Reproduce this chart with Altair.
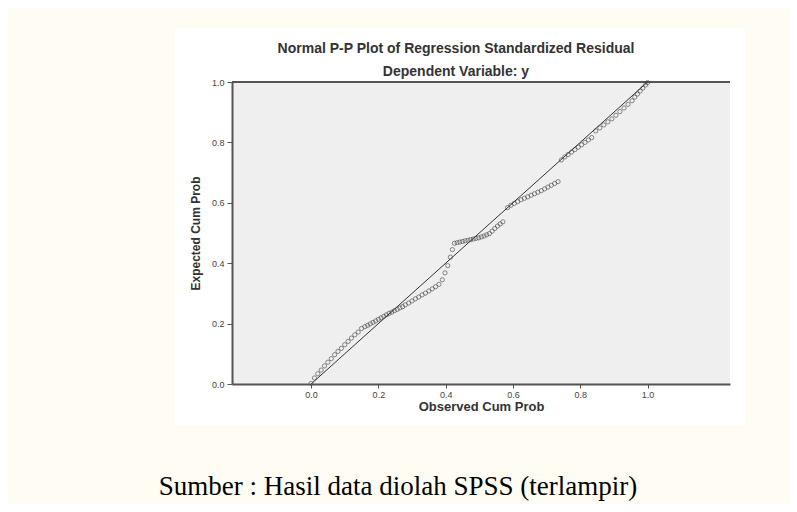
import altair as alt
import pandas as pd

# Observed cumulative probability (x) and expected cumulative probability (y)
observed = [
    0.000, 0.010, 0.020, 0.030, 0.040, 0.050, 0.060, 0.070, 0.080, 0.090,
    0.100, 0.110, 0.120, 0.130, 0.140, 0.150,
    0.160, 0.168, 0.176, 0.184, 0.192, 0.200, 0.208, 0.216,
    0.224, 0.232, 0.240, 0.248, 0.256, 0.264, 0.272,
    0.280, 0.290, 0.300, 0.310, 0.320, 0.330, 0.340, 0.350, 0.360, 0.370, 0.380,
    0.390, 0.398, 0.406, 0.414, 0.420,
    0.426, 0.434, 0.442, 0.450, 0.458, 0.466, 0.474, 0.482, 0.490, 0.498,
    0.506, 0.514, 0.522, 0.530,
    0.538, 0.546, 0.554, 0.562, 0.570,
    0.584, 0.594, 0.604, 0.614, 0.624, 0.634, 0.644, 0.654, 0.664, 0.674,
    0.684, 0.694, 0.704, 0.714, 0.724, 0.734,
    0.744, 0.754, 0.764, 0.774, 0.784, 0.794, 0.804, 0.814, 0.824, 0.834,
    0.846, 0.858, 0.870, 0.882, 0.894, 0.906, 0.918, 0.930, 0.942, 0.954,
    0.962, 0.970, 0.978, 0.986, 0.994, 1.000,
]
expected = [
    0.002, 0.020, 0.034, 0.046, 0.060, 0.072, 0.084, 0.097, 0.108, 0.118,
    0.130, 0.141, 0.152, 0.163, 0.172, 0.184,
    0.190, 0.194, 0.199, 0.204, 0.209, 0.214, 0.219, 0.224,
    0.229, 0.234, 0.238, 0.243, 0.247, 0.252, 0.256,
    0.262, 0.268, 0.275, 0.282, 0.288, 0.295, 0.301, 0.308, 0.315, 0.322, 0.330,
    0.345, 0.368, 0.392, 0.420, 0.445,
    0.466, 0.468, 0.470, 0.472, 0.474, 0.476, 0.478, 0.480, 0.482, 0.484,
    0.487, 0.490, 0.494, 0.498,
    0.506, 0.515, 0.523, 0.530, 0.537,
    0.584, 0.592, 0.598, 0.604, 0.610, 0.615, 0.620, 0.625, 0.630, 0.635,
    0.640, 0.646, 0.652, 0.658, 0.664, 0.670,
    0.742, 0.752, 0.760, 0.768, 0.776, 0.784, 0.792, 0.800, 0.808, 0.816,
    0.838, 0.848, 0.858, 0.868, 0.878, 0.890, 0.902, 0.914, 0.926, 0.938,
    0.950, 0.960, 0.970, 0.980, 0.990, 0.998,
]

diag_observed = [0.0, 1.0]
diag_expected = [0.0, 1.0]

x_ticks = [0.0, 0.2, 0.4, 0.6, 0.8, 1.0]
y_ticks = [0.0, 0.2, 0.4, 0.6, 0.8, 1.0]

title_text = "Normal P-P Plot of Regression Standardized Residual"
subtitle_text = "Dependent Variable: y"
x_title = "Observed Cum Prob"
y_title = "Expected Cum Prob"
footer_text = "Sumber : Hasil data diolah SPSS (terlampir)"

points_df = pd.DataFrame({"observed": observed, "expected": expected})
diag_df = pd.DataFrame({"observed": diag_observed, "expected": diag_expected})
one_row = pd.DataFrame({"k": [0]})

W, H = 498, 302
FONT = "Liberation Sans"

x_axis = alt.Axis(
    title=x_title, values=x_ticks, format=".1f", grid=False, zindex=1,
    domainColor="#555", domainWidth=2, tickColor="#555", tickSize=4,
    labelFont=FONT, labelFontSize=9, labelColor="#444", labelPadding=2,
    titleFont=FONT, titleFontSize=13, titleFontWeight="bold", titleColor="#333",
    titlePadding=1,
)
y_axis = alt.Axis(
    title=y_title, values=y_ticks, format=".1f", grid=False, zindex=1,
    domainColor="#555", domainWidth=2, tickColor="#555", tickSize=5,
    labelFont=FONT, labelFontSize=9, labelColor="#444", labelPadding=3,
    titleFont=FONT, titleFontSize=12, titleFontWeight="bold", titleColor="#333",
    titlePadding=9,
)
x_scale = alt.Scale(domain=[-0.235, 1.245], nice=False, zero=False)
y_scale = alt.Scale(domain=[0, 1], nice=False, zero=False)

panel = alt.Chart(one_row).mark_rect(color="white").encode(
    x=alt.value(-57), x2=alt.value(513), y=alt.value(-54), y2=alt.value(343)
)

plot_bg = alt.Chart(one_row).mark_rect(color="#efefef").encode(
    x=alt.value(0), x2=alt.value(W), y=alt.value(0), y2=alt.value(H)
)

top_rule = alt.Chart(one_row).mark_rule(color="#555", strokeWidth=2).encode(
    x=alt.value(0), x2=alt.value(W), y=alt.value(0)
)

diag = alt.Chart(diag_df).mark_line(color="#333", strokeWidth=1).encode(
    x=alt.X("observed:Q", scale=x_scale, axis=x_axis),
    y=alt.Y("expected:Q", scale=y_scale, axis=y_axis),
)

pts = alt.Chart(points_df).mark_point(
    shape="circle", filled=False, size=18, color="#333", strokeWidth=0.8
).encode(
    x=alt.X("observed:Q", scale=x_scale, axis=x_axis),
    y=alt.Y("expected:Q", scale=y_scale, axis=y_axis),
)

title_mark = alt.Chart(one_row).mark_text(
    text=title_text, font=FONT, fontSize=14, fontWeight="bold", color="#333",
    align="center", baseline="middle",
).encode(x=alt.value(224), y=alt.value(-33))

subtitle_mark = alt.Chart(one_row).mark_text(
    text=subtitle_text, font=FONT, fontSize=14, fontWeight="bold", color="#333",
    align="center", baseline="middle",
).encode(x=alt.value(224), y=alt.value(-10))

footer = alt.Chart(one_row).mark_text(
    text=footer_text, font="Liberation Serif", fontSize=27, color="#000",
    align="center", baseline="alphabetic",
).encode(x=alt.value(166), y=alt.value(413))

chart = alt.layer(
    panel, plot_bg, top_rule, diag, pts, title_mark, subtitle_mark, footer
).properties(
    width=W, height=H,
    autosize="none",
    padding={"left": 224, "top": 74, "right": 59, "bottom": 120},
).configure(background="#fffdf3").configure_view(stroke=None)

chart.save("out.html", embed_options={"renderer": "svg", "actions": False})
